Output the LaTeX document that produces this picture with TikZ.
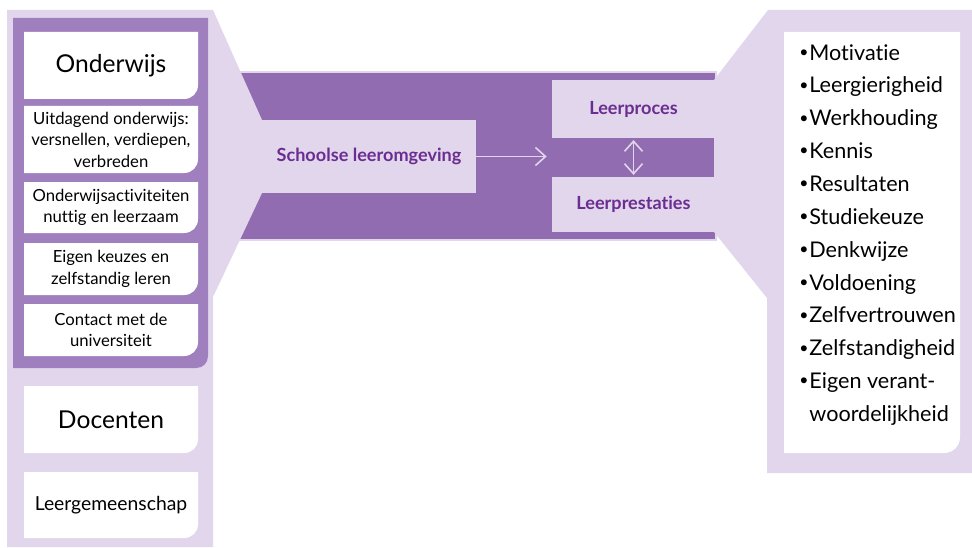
\documentclass[tikz,border=0pt]{standalone}
\usepackage{fontspec}
\setmainfont{Lato}[Ligatures=NoCommon]
\usetikzlibrary{arrows.meta, positioning}
\definecolor{lilac}{HTML}{E1D6EB}
\definecolor{bandpurple}{HTML}{926CB0}
\definecolor{panelpurple}{HTML}{A07FBE}
\definecolor{textpurple}{HTML}{6B2D91}
\newcommand{\listbul}{\raisebox{0.25ex}{\small\textbullet}\kern0.5pt}

\begin{document}
\begin{tikzpicture}[
  x=0.02cm, y=-0.02cm,
  >={Straight Barb[length=2mm, width=3.6mm]},
  lightbox/.style={fill=lilac, inner sep=0pt, text=textpurple,
    font=\bfseries\fontsize{10.3}{12}\selectfont},
  headtxt/.style={font=\fontsize{14}{16}\selectfont},
  itemtxt/.style={align=center, font=\fontsize{9.5}{12.2}\selectfont},
  listtxt/.style={align=left, inner sep=0pt, font=\fontsize{12.3}{18.7}\selectfont},
  arr/.style={->, draw=lilac, line width=0.9pt}
]
\useasboundingbox (0,0) rectangle (972,547);

% ---- Band ----
\filldraw[fill=bandpurple, draw=lilac, line width=0.6pt] (235,72) rectangle (716,240);

% ---- Right panel ----
\fill[lilac] (768,10) -- (972,10) -- (972,473) -- (767,473) -- (767,298)
  -- (714,232) -- (714,80) -- cycle;
\fill[white] (784,32) -- (960,32) -- (960,437) .. controls (960,446) and (953,453)
  .. (944,453) -- (784,453) -- cycle;

\node[lightbox, minimum width=3.26cm, minimum height=1.16cm] (proc) at (633.5,109) {Leerproces};
\node[lightbox, minimum width=3.26cm, minimum height=1.1cm] (prest) at (633.5,204.5) {Leerprestaties};

\node[listtxt, anchor=north west] (kenmerken) at (799,44) {%
  \listbul Motivatie\\
  \listbul Leergierigheid\\
  \listbul Werkhouding\\
  \listbul Kennis\\
  \listbul Resultaten\\
  \listbul Studiekeuze\\
  \listbul Denkwijze\\
  \listbul Voldoening\\
  \listbul Zelfvertrouwen\\
  \listbul Zelfstandigheid\\
  \listbul Eigen verant-\\
  \hphantom{\listbul}woordelijkheid};

% ---- Left panel ----
\fill[lilac] (7,10) -- (213,10) -- (262,120) -- (262,193) -- (213,297)
  -- (213,547) -- (7,547) -- cycle;
\fill[panelpurple] (13,18) -- (208,18) -- (208,356) .. controls (208,363) and (203,368)
  .. (196,368) -- (13,368) -- cycle;
\foreach \ya/\yb in {32/99, 106/173, 182/233, 243/295, 304/356, 386/453, 472/538} {
  \fill[white] (24,\ya) -- (198,\ya) -- (198,\yb-14) .. controls (198,\yb-6) and (192,\yb)
    .. (184,\yb) -- (24,\yb) -- cycle;
}

\node[headtxt] (onderwijs) at (111,65.5) {Onderwijs};
\node[itemtxt] (uitdagend) at (111,139.5) {Uitdagend onderwijs:\\versnellen, verdiepen,\\verbreden};
\node[itemtxt] (activiteiten) at (111,207.5) {Onderwijsactiviteiten\\nuttig en leerzaam};
\node[itemtxt] (keuzes) at (111,269) {Eigen keuzes en\\zelfstandig leren};
\node[itemtxt] (contact) at (111,330) {Contact met de\\universiteit};
\node[headtxt] (docenten) at (111,419.5) {Docenten};
\node[itemtxt, font=\fontsize{11}{13}\selectfont] (gemeenschap) at (111,505) {Leergemeenschap};

\node[lightbox, minimum width=4.28cm, minimum height=1.46cm] (school) at (369,156.5) {Schoolse leeromgeving\hspace{0.15cm}};

% ---- Arrows ----
\draw[arr, shorten >=0.1cm] (school.east) -- (school.east -| proc.west);
\draw[arr, <->, shorten <=1pt, shorten >=1pt] (proc.south) -- (prest.north);

\end{tikzpicture}
\end{document}
